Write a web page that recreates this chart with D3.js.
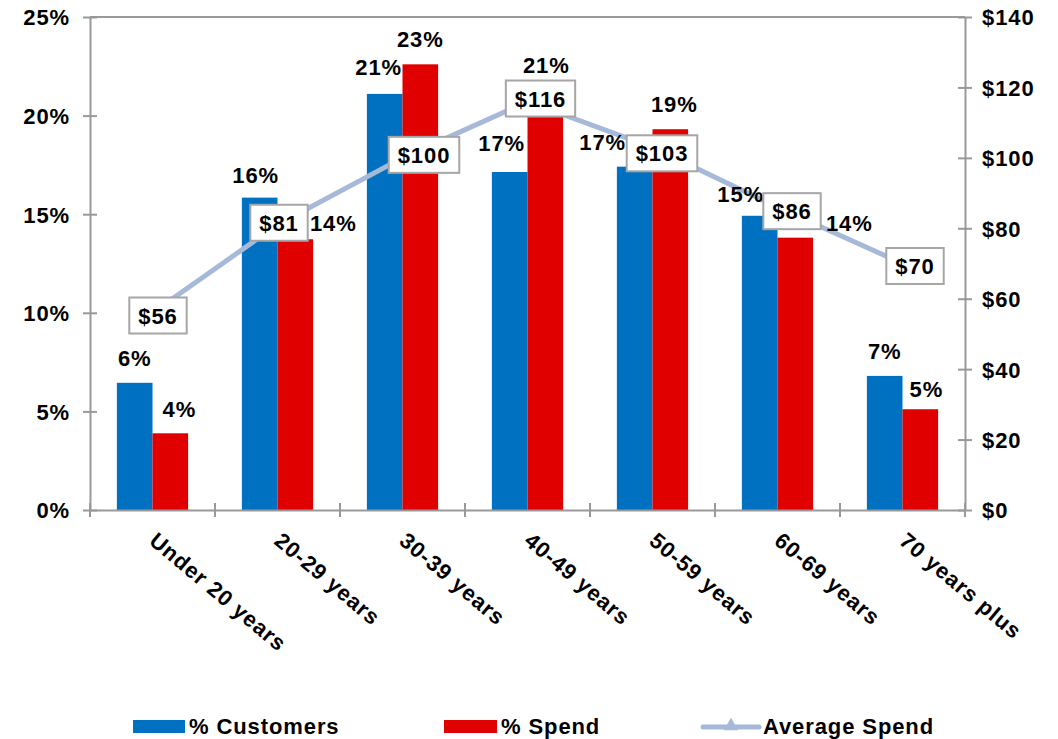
<!DOCTYPE html>
<html>
<head>
<meta charset="utf-8">
<script src="https://cdn.jsdelivr.net/npm/d3@7/dist/d3.min.js"></script>
<style>
  html, body { margin: 0; padding: 0; background: #ffffff; }
  svg text { font-family: "Liberation Sans", Arial, sans-serif; font-weight: bold; fill: #000; letter-spacing: 0.9px; }
</style>
</head>
<body>
<svg id="chart" width="1058" height="739"></svg>
<script>
// Age bands and the three measures per band
const categories = ["Under 20 years", "20-29 years", "30-39 years", "40-49 years", "50-59 years", "60-69 years", "70 years plus"];
const pctCustomers = [6.45, 15.84, 21.10, 17.14, 17.41, 14.92, 6.80];
const pctSpend     = [3.89, 13.73, 22.60, 21.20, 19.31, 13.81, 5.11];
const avgSpend     = [56, 81, 100, 116, 103, 86, 70];
const pctTicks     = [0, 5, 10, 15, 20, 25];
const dollarTicks  = [0, 20, 40, 60, 80, 100, 120, 140];
const seriesNames  = ["% Customers", "% Spend", "Average Spend"];

// Label placement nudges (dx, dy in px) so labels clear the line and its callouts
const custLabelNudge  = [[0,0],[-4,2],[-6,-2.5],[-8,-4],[-32,0],[-19,3],[0,0]];
const spendLabelNudge = [[9,0],[38,8],[0,-1],[1,-2],[4,-1],[54,10],[6,4]];
const spendBoxNudge   = [[5.5,2.7],[1.5,-2],[21.5,-3],[13,-3],[9.5,6],[14.5,4],[12.5,2.5]];

const BLUE = "#0070C0", RED = "#E10000", LINE = "#A6B9D9", AXIS = "#999999";
const FS = 22;

const svg = d3.select("#chart");
const plotL = 90, plotR = 965, plotT = 17, plotB = 510;

const x = d3.scaleBand().domain(categories).range([plotL, plotR]).padding(0);
const barW = x.bandwidth() * 0.285;
const xSub = d3.scaleBand().domain(["cust", "spend"])
  .range([(x.bandwidth() - 2 * barW) / 2, (x.bandwidth() + 2 * barW) / 2]).padding(0);
const yL = d3.scaleLinear().domain([0, 25]).range([plotB, plotT]);
const yR = d3.scaleLinear().domain([0, 140]).range([plotB, plotT]);
const cx = c => x(c) + x.bandwidth() / 2;

// Plot frame top edge
svg.append("line").attr("x1", plotL).attr("x2", plotR).attr("y1", plotT).attr("y2", plotT)
  .attr("stroke", AXIS).attr("stroke-width", 2);

// Bars
const rows = categories.map((c, i) => ({ c, i, cust: pctCustomers[i], spend: pctSpend[i] }));
const g = svg.append("g");
g.selectAll("rect.cust").data(rows).join("rect").attr("class", "cust")
  .attr("x", d => x(d.c) + xSub("cust")).attr("width", xSub.bandwidth())
  .attr("y", d => yL(d.cust)).attr("height", d => yL(0) - yL(d.cust)).attr("fill", BLUE);
g.selectAll("rect.spend").data(rows).join("rect").attr("class", "spend")
  .attr("x", d => x(d.c) + xSub("spend")).attr("width", xSub.bandwidth())
  .attr("y", d => yL(d.spend)).attr("height", d => yL(0) - yL(d.spend)).attr("fill", RED);

// Left axis
const axL = svg.append("g").attr("transform", `translate(${plotL},0)`)
  .call(d3.axisLeft(yL).tickValues(pctTicks).tickFormat(d => d + "%").tickSizeInner(7).tickSizeOuter(0).tickPadding(13));
// Right axis
const axR = svg.append("g").attr("transform", `translate(${plotR},0)`)
  .call(d3.axisRight(yR).tickValues(dollarTicks).tickFormat(d => "$" + d).tickSizeInner(7).tickSizeOuter(0).tickPadding(10));
[axL, axR].forEach(a => {
  a.attr("font-family", null).attr("font-size", null);
  a.select(".domain").attr("stroke", AXIS).attr("stroke-width", 2);
  a.selectAll(".tick line").attr("x1", -7).attr("x2", 7).attr("stroke", AXIS).attr("stroke-width", 2);
  a.selectAll(".tick text").attr("font-size", FS).attr("dy", "0.36em");
});

// Bottom axis: labels at band centres, ticks at band edges
const axB = svg.append("g").attr("transform", `translate(0,${plotB})`)
  .call(d3.axisBottom(x).tickSize(0).tickPadding(0));
axB.attr("font-family", null).attr("font-size", null);
axB.select(".domain").attr("stroke", AXIS).attr("stroke-width", 2);
axB.selectAll(".tick text").attr("font-size", FS).attr("x", 0).attr("y", 0).attr("dy", 0)
  .attr("text-anchor", "start").attr("transform", "translate(-4.5,33) rotate(40)");
const edges = categories.map(c => x(c)).concat([plotR]);
axB.selectAll("line.edge").data(edges).join("line").attr("class", "edge")
  .attr("x1", d => d).attr("x2", d => d).attr("y1", -7).attr("y2", 7)
  .attr("stroke", AXIS).attr("stroke-width", 2);

// Average spend line with triangle markers
const line = d3.line().x((d, i) => cx(categories[i])).y(d => yR(d));
svg.append("path").datum(avgSpend).attr("d", line).attr("fill", "none")
  .attr("stroke", LINE).attr("stroke-width", 5).attr("stroke-linejoin", "round");
svg.selectAll("path.mk").data(avgSpend).join("path").attr("class", "mk")
  .attr("d", d3.symbol(d3.symbolTriangle, 90))
  .attr("transform", (d, i) => `translate(${cx(categories[i])},${yR(d)})`).attr("fill", LINE);

// Bar value labels
const GAP = 16.5;
svg.selectAll("text.lc").data(rows).join("text").attr("class", "lc")
  .attr("font-size", FS).attr("text-anchor", "middle")
  .attr("x", d => x(d.c) + xSub("cust") + barW / 2 + custLabelNudge[d.i][0])
  .attr("y", d => yL(d.cust) - GAP + custLabelNudge[d.i][1])
  .text(d => Math.round(d.cust) + "%");
svg.selectAll("text.ls").data(rows).join("text").attr("class", "ls")
  .attr("font-size", FS).attr("text-anchor", "middle")
  .attr("x", d => x(d.c) + xSub("spend") + barW / 2 + spendLabelNudge[d.i][0])
  .attr("y", d => yL(d.spend) - GAP + spendLabelNudge[d.i][1])
  .text(d => Math.round(d.spend) + "%");

// Average spend callouts
const callouts = svg.selectAll("g.co").data(avgSpend).join("g").attr("class", "co")
  .attr("transform", (d, i) => `translate(${cx(categories[i]) + spendBoxNudge[i][0]},${yR(d) + spendBoxNudge[i][1]})`);
callouts.each(function (d) {
  const grp = d3.select(this);
  const rect = grp.append("rect");
  const t = grp.append("text").attr("font-size", FS).attr("text-anchor", "middle").attr("y", 8).text("$" + d);
  const w = t.node().getComputedTextLength() + 18;
  rect.attr("x", -w / 2).attr("y", -18).attr("width", w).attr("height", 36)
    .attr("fill", "#fff").attr("stroke", "#A6A6A6").attr("stroke-width", 2);
});

// Legend
const lg = svg.append("g").attr("transform", "translate(0,726)");
lg.append("rect").attr("x", 133).attr("y", -6).attr("width", 52).attr("height", 13).attr("fill", BLUE);
lg.append("text").attr("x", 189).attr("y", 8).attr("font-size", FS).text(seriesNames[0]);
lg.append("rect").attr("x", 444).attr("y", -6).attr("width", 53).attr("height", 13).attr("fill", RED);
lg.append("text").attr("x", 501).attr("y", 8).attr("font-size", FS).text(seriesNames[1]);
lg.append("line").attr("x1", 703).attr("x2", 759).attr("y1", 1).attr("y2", 1)
  .attr("stroke", LINE).attr("stroke-width", 5).attr("stroke-linecap", "round");
lg.append("path").attr("d", d3.symbol(d3.symbolTriangle, 90)).attr("transform", "translate(731,0)").attr("fill", LINE);
lg.append("text").attr("x", 763).attr("y", 8).attr("font-size", FS).text(seriesNames[2]);
</script>
</body>
</html>
